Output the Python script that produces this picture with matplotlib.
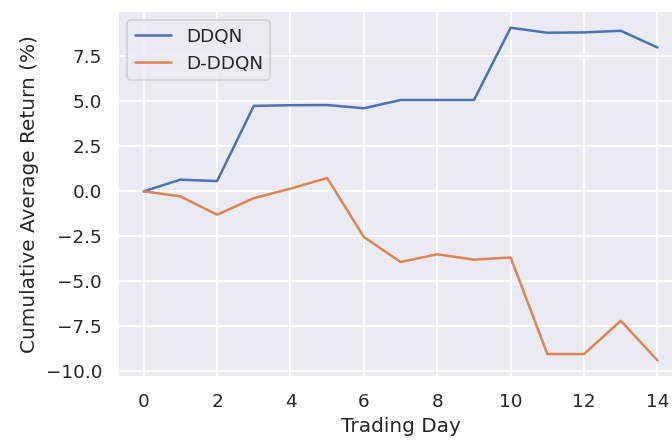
"""Cumulative average return: DDQN vs D-DDQN."""
import matplotlib
matplotlib.use('Agg')
import matplotlib.pyplot as plt
import seaborn as sns

sns.set_theme()
plt.rcParams['font.family'] = ['DejaVu Sans']

days = list(range(15))
ddqn = [0.0, 0.65, 0.57, 4.75, 4.79, 4.80, 4.62, 5.08, 5.08, 5.08,
        9.10, 8.82, 8.84, 8.93, 8.00]
d_ddqn = [0.0, -0.28, -1.30, -0.38, 0.15, 0.74, -2.54, -3.93, -3.50, -3.80,
          -3.68, -9.05, -9.05, -7.20, -9.40]

fig = plt.figure(figsize=(5.6, 3.7), dpi=120)
ax = fig.add_axes([0.1756, 0.151, 0.841, 0.824])

ax.plot(days, ddqn, label='DDQN')
ax.plot(days, d_ddqn, label='D-DDQN')
ax.set_xticks(range(0, 15, 2))
ax.set_yticks([-10.0, -7.5, -5.0, -2.5, 0.0, 2.5, 5.0, 7.5])
ax.set_xlabel('Trading Day')
ax.set_ylabel('Cumulative Average Return (%)')
ax.legend(loc='upper left')

fig.savefig('out.png', dpi=120)
plt.close(fig)
